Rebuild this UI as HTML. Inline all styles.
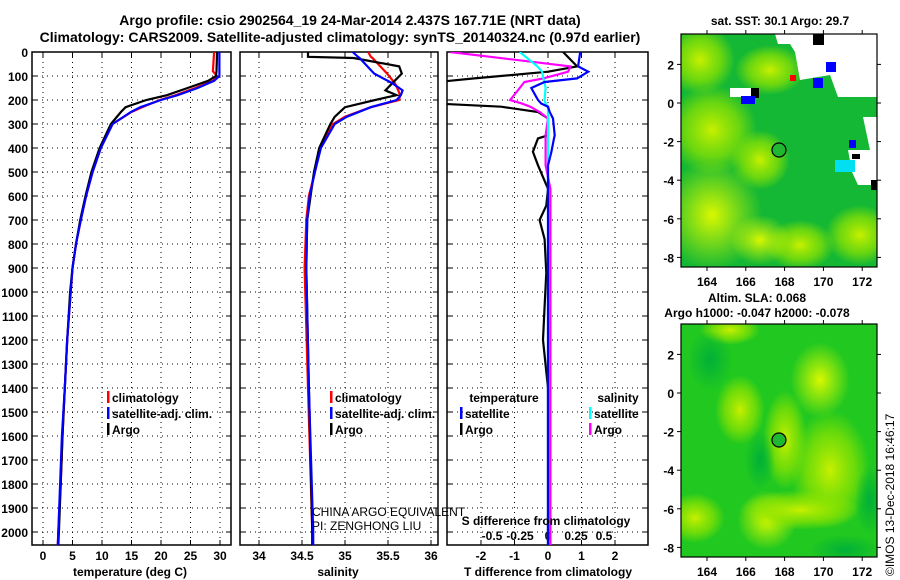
<!DOCTYPE html>
<html><head><meta charset="utf-8"><style>
html,body{margin:0;padding:0;background:#fff}
svg{display:block;font-family:"Liberation Sans",Arial,sans-serif}
.t{font-weight:bold;font-size:12px;fill:#000}
.g{stroke:#000;stroke-width:1;stroke-dasharray:1,4}
</style></head><body>
<svg id="s" width="900" height="580" viewBox="0 0 900 580">
<defs>
<clipPath id="c1"><rect x="32" y="52" width="199" height="493"/></clipPath>
<clipPath id="c2"><rect x="240" y="52" width="198" height="493"/></clipPath>
<clipPath id="c3"><rect x="447" y="52" width="201" height="493"/></clipPath>
<clipPath id="m34"><rect x="681" y="34" width="196" height="233"/></clipPath>
<clipPath id="m324"><rect x="681" y="324" width="196" height="233"/></clipPath>
<radialGradient id="y1"><stop offset="0" stop-color="#d8f800"/><stop offset="1" stop-color="#d8f800" stop-opacity="0"/></radialGradient>
<radialGradient id="y2"><stop offset="0" stop-color="#c8f000"/><stop offset="0.6" stop-color="#90e400" stop-opacity="0.7"/><stop offset="1" stop-color="#90e400" stop-opacity="0"/></radialGradient>
<radialGradient id="d1"><stop offset="0" stop-color="#00b038"/><stop offset="1" stop-color="#00b038" stop-opacity="0"/></radialGradient>
</defs>
<text x="350" y="25" text-anchor="middle" font-size="14" font-weight="bold">Argo profile: csio 2902564_19 24-Mar-2014 2.437S 167.71E (NRT data)</text>
<text x="340" y="42" text-anchor="middle" font-size="14" font-weight="bold">Climatology: CARS2009. Satellite-adjusted climatology: synTS_20140324.nc (0.97d earlier)</text>
<g id="plots"></g>
<g id="maps"></g>
</svg>
<script>
const tDepth=[0,80,100,120,150,180,200,230,250,300,400,500,600,700,800,900,1000,1200,1400,1600,1800,2000,2055];
const tempArgo=[29.5,29.4,29.3,28,24.5,21,17.5,14,13.2,11.5,9.6,8.2,7.2,6.3,5.6,5.0,4.6,4.1,3.7,3.3,3.0,2.7,2.6];
const tempClim=[29.0,28.8,29.5,28.8,25.8,22.5,19.8,16.8,15,11.8,9.8,8.4,7.3,6.4,5.6,5.0,4.7,4.1,3.7,3.3,3.0,2.6,2.5];
const tempSat=[29.9,29.9,29.9,29.0,26.2,22.8,20.0,16.5,14.9,11.8,9.8,8.4,7.3,6.4,5.6,5.0,4.7,4.1,3.7,3.2,2.9,2.6,2.5];
const sDepth=[0,20,25,60,90,130,160,180,200,230,270,300,400,500,600,700,900,1400,2000,2055];
const salArgo=[34.57,34.57,35.1,35.63,35.66,35.55,35.47,35.6,35.35,35.0,34.88,34.83,34.70,34.64,34.60,34.56,34.55,34.58,34.62,34.62];
const salClim=[35.27,35.3,35.32,35.41,35.49,35.58,35.62,35.64,35.63,35.3,35.0,34.86,34.71,34.65,34.58,34.55,34.53,34.57,34.62,34.62];
const salSat=[35.09,35.15,35.17,35.26,35.34,35.55,35.67,35.65,35.6,35.3,35.02,34.88,34.72,34.65,34.59,34.56,34.55,34.58,34.63,34.63];
const dDepth=[0,60,82,110,125,150,200,215,228,250,277,347,360,416,472,570,640,700,780,920,1060,1200,1400,2055];
const dTArgo=[0.45,0.87,0.0,-2.2,-3.3,-3.3,-3.3,-3.3,-1.4,-0.3,0.0,0.0,-0.3,-0.45,-0.3,0.0,-0.05,-0.25,-0.1,-0.05,-0.1,-0.15,0.0,0.0];
const dTSat=[0.96,0.9,1.2,0.87,-0.1,-0.5,-0.3,-0.2,0.0,0.05,0.15,0.2,0.18,0.1,0.0,0.0,0.0,0.0,0.0,0.0,0.0,0.0,0.0,0.0];
const dSArgo=[-0.83,0.19,0.17,-0.04,-0.2,-0.24,-0.32,-0.22,-0.15,-0.07,0.0,-0.02,-0.02,-0.02,-0.02,0.02,0.02,0.02,0.02,0.02,0.02,0.02,0.02,0.02];
const dSSat=[-0.24,-0.09,-0.05,-0.04,-0.03,-0.02,-0.03,-0.02,0.0,0.0,0.0,0.0,0.0,0.0,0.0,0.0,0.0,0.0,0.0,0.0,0.0,0.0,0.0,0.0];
const depthTicks=[0,100,200,300,400,500,600,700,800,900,1000,1100,1200,1300,1400,1500,1600,1700,1800,1900,2000];
const tempTicks=[0,5,10,15,20,25,30];
const salTicks=[34,34.5,35,35.5,36];
const dTTicks=[-2,-1,0,1,2];
const dSTicks=[-0.5,-0.25,0,0.25,0.5];
const lonTicks=[164,166,168,170,172];
const latTicks=[2,0,-2,-4,-6,-8];
const argoLon=167.71, argoLat=-2.437;

const NS='http://www.w3.org/2000/svg';
function mk(tag,attrs,parent,txt){const e=document.createElementNS(NS,tag);for(const k in attrs)e.setAttribute(k,attrs[k]);if(txt!==undefined)e.textContent=txt;parent.appendChild(e);return e;}
const yD=d=>52+d*0.24;
const xT=v=>43+v*5.9;
const xS=v=>259+(v-34)*86;
const xDT=v=>548+v*33.5;
const xDS=v=>548+v*118;
const xDSlab=v=>548+v*112;
const P=document.getElementById('plots');

function frame(x0,x1,name,xs,ticks,fmt){
  const g=mk('g',{},P);
  
  
  depthTicks.forEach(d=>{mk('line',{x1:x0,x2:x1,y1:yD(d),y2:yD(d),class:'g'},g);
    mk('line',{x1:x0,x2:x0+5,y1:yD(d),y2:yD(d),stroke:'#000'},g);mk('line',{x1:x1-5,x2:x1,y1:yD(d),y2:yD(d),stroke:'#000'},g);});
  ticks.forEach(v=>{const x=xs(v);mk('line',{x1:x,x2:x,y1:52,y2:545,class:'g'},g);
    mk('line',{x1:x,x2:x,y1:52,y2:57,stroke:'#000'},g);mk('line',{x1:x,x2:x,y1:540,y2:545,stroke:'#000'},g);
    const t=mk('text',{x:x,y:560,'text-anchor':'middle',class:'t'},g,fmt(v));
    
    });
  mk('rect',{x:x0,y:52,width:x1-x0,height:493,fill:'none',stroke:'#000','stroke-width':1.5},g);
  return g;
}
function line(xs,depths,vals,col,clip,name){
  const pts=vals.map((v,i)=>xs(v).toFixed(1)+','+yD(depths[i]).toFixed(1)).join(' ');
  const l=mk('polyline',{points:pts,fill:'none',stroke:col,'stroke-width':2.2,'clip-path':'url(#'+clip+')'},P);
  
  
}
frame(32,231,'temperature-panel',xT,tempTicks,v=>String(v));
depthTicks.forEach(d=>{const t=mk('text',{x:28,y:yD(d)+5,'text-anchor':'end',class:'t'},P,String(d));
  
  });
frame(240,438,'salinity-panel',xS,salTicks,v=>String(v));
frame(447,648,'difference-panel',xDT,dTTicks,v=>String(v));
dSTicks.forEach(v=>{const t=mk('text',{x:xDSlab(v),y:540,'text-anchor':'middle',class:'t'},P,String(v));
  
  });

line(xT,tDepth,tempClim,'#f00','c1','temp-climatology-line');
line(xT,tDepth,tempArgo,'#000','c1','temp-argo-line');
line(xT,tDepth,tempSat,'#00f','c1','temp-satellite-line');
line(xS,sDepth,salClim,'#f00','c2','sal-climatology-line');
line(xS,sDepth,salArgo,'#000','c2','sal-argo-line');
line(xS,sDepth,salSat,'#00f','c2','sal-satellite-line');
line(xDT,dDepth,dTArgo,'#000','c3','tdiff-argo-line');
line(xDS,dDepth,dSArgo,'#f0f','c3','sdiff-argo-line');
line(xDS,dDepth,dSSat,'#0ff','c3','sdiff-satellite-line');
line(xDT,dDepth,dTSat,'#00f','c3','tdiff-satellite-line');

function axTitle(x,y,s,name){const t=mk('text',{x:x,y:y,'text-anchor':'middle',class:'t'},P,s);
  
  }
axTitle(130,576,'temperature (deg C)','temp-axis-title');
axTitle(338,576,'salinity','salinity-axis-title');
axTitle(548,576,'T difference from climatology','tdiff-axis-title');
axTitle(546,525,'S difference from climatology','sdiff-axis-title');

function leg(x,y,col,s,name){const g=mk('g',{},P);
  
  
  mk('rect',{x:x,y:y-11,width:2.5,height:12,fill:col},g);
  mk('text',{x:x+5,y:y,class:'t'},g,s);}
leg(107,402,'#f00','climatology','legend-climatology');
leg(107,418,'#00f','satellite-adj. clim.','legend-satellite-adj');
leg(107,434,'#000','Argo','legend-argo');
leg(330,402,'#f00','climatology','legend-sal-climatology');
leg(330,418,'#00f','satellite-adj. clim.','legend-sal-satellite-adj');
leg(330,434,'#000','Argo','legend-sal-argo');
axTitle(504,402,'temperature','legend-temperature-heading');
axTitle(618,402,'salinity','legend-salinity-heading');
leg(460,418,'#00f','satellite','legend-t-satellite');
leg(460,434,'#000','Argo','legend-t-argo');
leg(589,418,'#0ff','satellite','legend-s-satellite');
leg(589,434,'#f0f','Argo','legend-s-argo');
const c1=mk('text',{x:312,y:516,'font-size':12,fill:'#000'},P,'CHINA ARGO EQUIVALENT');


const c2=mk('text',{x:312,y:530,'font-size':12,fill:'#000'},P,'PI: ZENGHONG LIU');



const M=document.getElementById('maps');
function map(y0,lat0y,name,title,bg,shapes){
  const xL=v=>707+(v-164)*19.4, yL=v=>lat0y-v*19.3;
  const g=mk('g',{},M);
  
  
  const inner=mk('g',{'clip-path':'url(#m'+y0+')'},g);
  mk('rect',{x:681,y:y0,width:196,height:233,fill:bg},inner);
  shapes(inner);
  mk('rect',{x:681,y:y0,width:196,height:233,fill:'none',stroke:'#000','stroke-width':1.2},g);
  lonTicks.forEach(v=>{mk('line',{x1:xL(v),x2:xL(v),y1:y0,y2:y0-4,stroke:'#000'},g);mk('line',{x1:xL(v),x2:xL(v),y1:y0+233,y2:y0+237,stroke:'#000'},g);
    const t=mk('text',{x:xL(v),y:y0+252,'text-anchor':'middle',class:'t','font-size':13},g,String(v));
    
    });
  latTicks.forEach(v=>{mk('line',{x1:677,x2:681,y1:yL(v),y2:yL(v),stroke:'#000'},g);mk('line',{x1:877,x2:881,y1:yL(v),y2:yL(v),stroke:'#000'},g);
    const t=mk('text',{x:674,y:yL(v)+5,'text-anchor':'end',class:'t','font-size':13},g,String(v));
    
    });
  const m=mk('circle',{cx:xL(argoLon),cy:yL(argoLat),r:7,fill:'#20b830',stroke:'#000','stroke-width':1.2},g);
  
  
  title.forEach(s=>{const t=mk('text',{x:s[1],y:s[2],'text-anchor':'middle',class:'t','font-size':13},g,s[0]);
    
    });
}
map(34,103,'sst-map',[['sat. SST: 30.1 Argo: 29.7',780,25]],'#14b834',g=>{
  [[712,130,45,45,'url(#y2)'],[712,215,50,55,'url(#y1)'],[700,60,35,35,'url(#y2)'],[770,70,35,25,'url(#y2)'],[760,160,30,30,'url(#y2)'],[860,235,35,30,'url(#y2)'],[800,245,35,25,'url(#y2)'],[760,240,30,25,'url(#y1)']].forEach(e=>mk('ellipse',{cx:e[0],cy:e[1],rx:e[2],ry:e[3],fill:e[4]},g));
  mk('polygon',{points:'775,34 877,34 877,97 838,97 830,75 800,80 795,52 790,44 778,44',fill:'#fff'},g);
  mk('rect',{x:730,y:88,width:22,height:9,fill:'#fff'},g);
  mk('polygon',{points:'863,117 877,117 877,150 870,150',fill:'#fff'},g);
  mk('polygon',{points:'848,150 877,150 877,185 858,185 852,172',fill:'#fff'},g);
  mk('rect',{x:835,y:160,width:20,height:12,fill:'#00e0f0'},g);
  [[813,34,11,11,'#000'],[826,62,10,10,'#00f'],[813,78,10,10,'#00f'],[751,88,8,10,'#000'],[741,96,14,8,'#00f'],[849,140,7,8,'#00f'],[790,75,6,6,'#f00'],[871,180,6,10,'#000'],[852,154,8,5,'#000']].forEach(r=>mk('rect',{x:r[0],y:r[1],width:r[2],height:r[3],fill:r[4]},g));
});
map(324,393,'sla-map',[['Altim. SLA: 0.068',757,302],['Argo h1000: -0.047 h2000: -0.078',757,317]],'#20c820',g=>{
  [[820,380,30,38,'url(#y1)'],[767,520,30,30,'url(#y1)'],[695,518,30,25,'url(#y2)'],[740,410,25,35,'url(#y2)'],[785,440,22,50,'url(#y2)'],[830,470,40,60,'url(#y2)'],[800,510,60,20,'url(#y2)'],[730,330,30,15,'url(#y2)'],[710,360,22,30,'url(#d1)'],[845,550,35,15,'url(#d1)'],[870,500,15,35,'url(#d1)'],[760,460,15,30,'url(#d1)']].forEach(e=>mk('ellipse',{cx:e[0],cy:e[1],rx:e[2],ry:e[3],fill:e[4]},g));
});
const cr=mk('text',{x:0,y:0,'font-size':12,fill:'#000',transform:'translate(894,576) rotate(-90)'},M,'©IMOS 13-Dec-2018 16:46:17');


</script>
</body></html>
